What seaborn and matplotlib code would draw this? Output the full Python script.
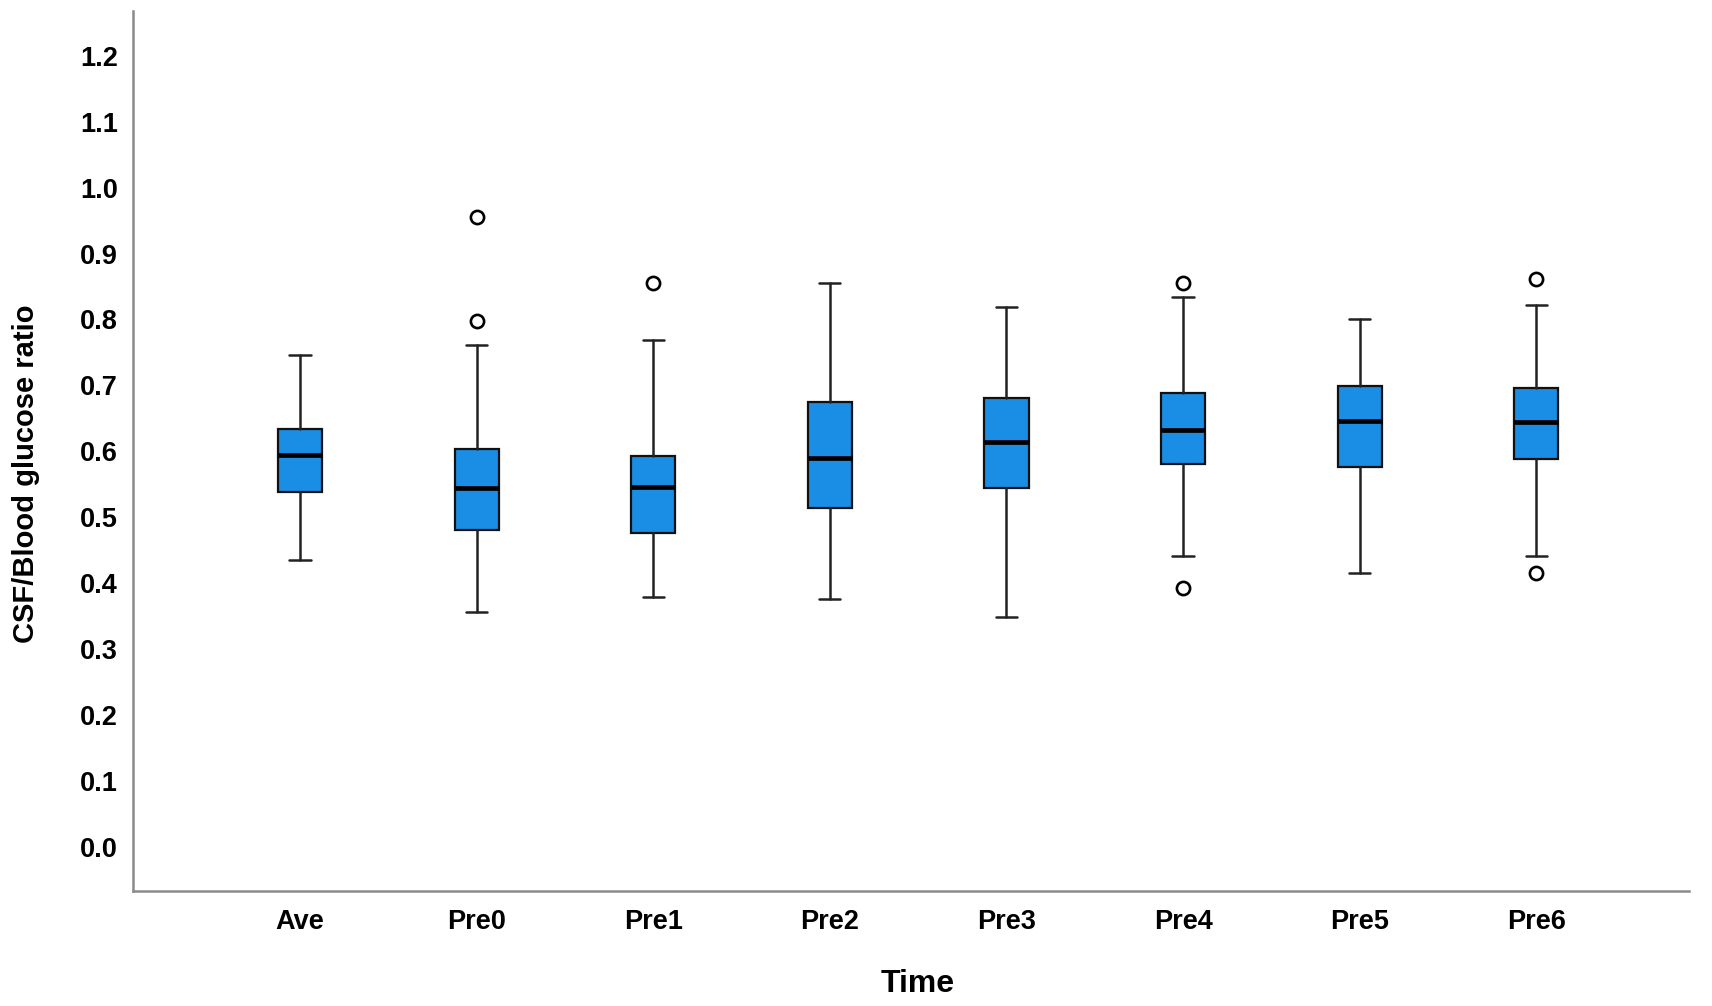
import matplotlib
matplotlib.use("Agg")
import matplotlib.pyplot as plt
import seaborn as sns

# summary values
times = ["Ave", "Pre0", "Pre1", "Pre2", "Pre3", "Pre4", "Pre5", "Pre6"]
whisker_low = [0.435, 0.356, 0.379, 0.376, 0.349, 0.441, 0.416, 0.441]
q1 = [0.539, 0.481, 0.476, 0.514, 0.545, 0.581, 0.576, 0.588]
median = [0.595, 0.544, 0.546, 0.590, 0.614, 0.633, 0.646, 0.645]
q3 = [0.634, 0.604, 0.593, 0.675, 0.681, 0.688, 0.699, 0.696]
whisker_high = [0.746, 0.762, 0.769, 0.855, 0.819, 0.834, 0.801, 0.822]
outliers = [[], [0.955, 0.797], [0.855], [], [], [0.855, 0.392], [], [0.862, 0.416]]

y_ticks = [0.0, 0.1, 0.2, 0.3, 0.4, 0.5, 0.6, 0.7, 0.8, 0.9, 1.0, 1.1, 1.2]

sns.set_theme(style="white", rc={"text.color": "black", "axes.labelcolor": "black",
                                 "xtick.color": "black", "ytick.color": "black"})
plt.rcParams["font.family"] = ["Liberation Sans", "DejaVu Sans"]

fig = plt.figure(figsize=(17.12, 10.06), dpi=100)
ax = fig.add_axes([0.0777, 0.1143, 0.9089, 0.8748])

stats = []
for i, name in enumerate(times):
    stats.append({
        "label": name,
        "whislo": whisker_low[i],
        "q1": q1[i],
        "med": median[i],
        "q3": q3[i],
        "whishi": whisker_high[i],
        "fliers": outliers[i],
    })

ax.bxp(
    stats,
    positions=range(len(times)),
    widths=0.25,
    capwidths=0.12,
    patch_artist=True,
    showfliers=True,
    boxprops=dict(facecolor="#1a8de4", edgecolor="#111111", linewidth=1.6),
    medianprops=dict(color="black", linewidth=3.4),
    whiskerprops=dict(color="#222222", linewidth=1.8),
    capprops=dict(color="#222222", linewidth=1.8),
    flierprops=dict(marker="o", markersize=9.5, markerfacecolor="white",
                    markeredgecolor="black", markeredgewidth=1.9),
)

ax.set_xlim(-0.946, 7.865)
ax.set_ylim(-0.067, 1.268)
ax.set_yticks(y_ticks)
ax.set_yticklabels([f"{t:.1f}" for t in y_ticks])
ax.set_xticks(range(len(times)))
ax.set_xticklabels(times)
ax.tick_params(axis="both", length=0, labelsize=19.5, labelcolor="black")
ax.tick_params(axis="y", pad=11)
ax.tick_params(axis="x", pad=13)
for lab in ax.get_xticklabels() + ax.get_yticklabels():
    lab.set_fontweight("bold")

for side in ["top", "right"]:
    ax.spines[side].set_visible(False)
for side in ["left", "bottom"]:
    ax.spines[side].set_color("#8a8a8a")
    ax.spines[side].set_linewidth(1.8)

ax.set_xlabel("Time", fontsize=23, fontweight="bold", color="black")
ax.xaxis.set_label_coords(0.5045, -0.089)
ax.set_ylabel("CSF/Blood glucose ratio", fontsize=21, fontweight="bold", color="black")
ax.yaxis.set_label_coords(-0.0598, 0.474)

fig.savefig("out.png", dpi=100)
